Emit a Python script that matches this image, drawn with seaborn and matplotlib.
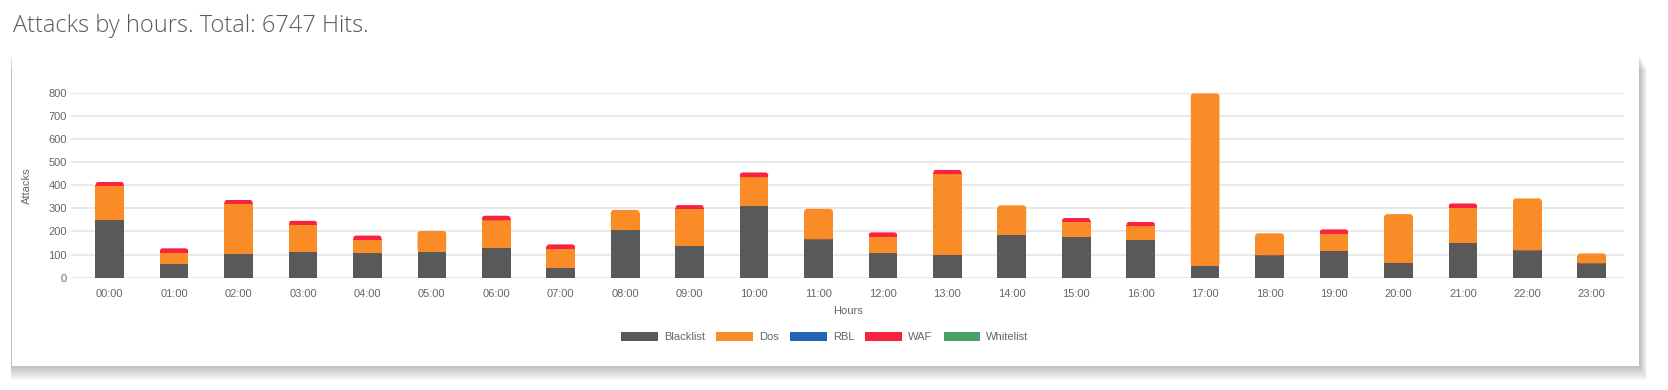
import matplotlib
matplotlib.use("Agg")
import matplotlib.pyplot as plt
from matplotlib.patches import Rectangle, Patch, FancyBboxPatch
import numpy as np
import pandas as pd
import seaborn as sns

# Data
hours = [f"{h:02d}:00" for h in range(24)]
blacklist = [250, 59, 102, 110, 105, 112, 128, 40, 206, 138, 311, 166,
             108, 99, 186, 174, 163, 52, 97, 117, 65, 150, 118, 62]
dos = [147, 49, 217, 119, 58, 90, 120, 84, 87, 159, 124, 132,
       69, 349, 127, 67, 60, 745, 95, 73, 210, 153, 225, 43]
rbl = [0] * 24
waf = [17, 19, 17, 17, 19, 0, 20, 20, 0, 17, 20, 0,
       19, 18, 0, 17, 18, 0, 0, 19, 0, 18, 0, 0]
whitelist = [0] * 24

series_names = ["Blacklist", "Dos", "RBL", "WAF", "Whitelist"]
series_colors = ["#595959", "#f98c26", "#2364b4", "#f7233f", "#489f68"]
title = "Attacks by hours. Total: 6747 Hits."

sns.set_theme(style="white")
plt.rcParams["font.family"] = ["Liberation Sans", "DejaVu Sans"]

W, H = 1668, 390
fig = plt.figure(figsize=(W / 100, H / 100), dpi=100)
fig.patch.set_facecolor("white")

# card with soft shadow
cx0, cy0, cx1, cy1 = 12, 55, 1639, 366  # pixel box (top-left origin)
for i in range(10):
    fig.patches.append(Rectangle(((cx0 - 1) / W, (H - cy1 - i * 1.6) / H),
                                 (cx1 - cx0 + 2 + i * 0.8) / W, (cy1 - cy0) / H,
                                 transform=fig.transFigure, facecolor="black",
                                 edgecolor="none", alpha=0.028, zorder=0))
fig.patches.append(Rectangle((cx0 / W, (H - cy1) / H), (cx1 - cx0) / W, (cy1 - cy0) / H,
                             transform=fig.transFigure, facecolor="white",
                             edgecolor="none", zorder=1))

fig.text(13 / W, 1 - 32 / H, title, fontsize=17, color="#5a5a5a",
         family=["Open Sans", "DejaVu Sans"], fontweight="light", va="baseline")

ax_l, ax_r, ax_t, ax_b = 71, 1624, 92.7, 277.7
ax = fig.add_axes([ax_l / W, (H - ax_b) / H, (ax_r - ax_l) / W, (ax_b - ax_t) / H])
ax.set_zorder(2)
ax.patch.set_alpha(0)

df = pd.DataFrame({"Hours": hours, "Blacklist": blacklist, "Dos": dos,
                   "RBL": rbl, "WAF": waf, "Whitelist": whitelist})

bottom = np.zeros(len(hours))
for name, color in zip(series_names, series_colors):
    vals = df[name].to_numpy()
    sns.barplot(data=df, x="Hours", y=name, color=color, width=0.445,
                bottom=bottom, saturation=1, ax=ax, zorder=3,
                edgecolor="none", linewidth=0)
    bottom = bottom + vals

ax.set_xlim(-0.6, 23.5)
ax.set_ylim(0, 800)

# round the top corners of each stack (like the original chart)
n = len(hours)
bars = list(ax.patches)
px_x = (ax_r - ax_l) / (23.5 + 0.6)      # pixels per x unit
px_y = (ax_b - ax_t) / 800               # pixels per y unit
aspect = px_x / px_y
radius = 3.0 / px_x
for i in range(n):
    top = None
    for s in range(len(series_names)):
        if df[series_names[s]].iloc[i] > 0:
            top = bars[s * n + i]
    if top is None:
        continue
    x, y = top.get_x(), top.get_y()
    w, h = top.get_width(), top.get_height()
    fc = top.get_facecolor()
    top.set_height(max(h - radius * aspect, 0))
    ax.add_patch(FancyBboxPatch((x, y), w, h,
                                boxstyle=f"round,pad=0,rounding_size={radius}",
                                mutation_aspect=aspect, facecolor=fc,
                                edgecolor="none", zorder=3))

ax.set_yticks(np.arange(0, 801, 100))
ax.yaxis.grid(True, color="#e3e3e3", linewidth=1.1, zorder=0)
ax.xaxis.grid(False)
for s in ax.spines.values():
    s.set_visible(False)
ax.tick_params(axis="both", length=0, labelsize=8, labelcolor="#666666")
ax.tick_params(axis="y", pad=3)
ax.tick_params(axis="x", pad=8)
ax.set_axisbelow(True)

ax.set_ylabel("Attacks", fontsize=8, color="#666666")
ax.yaxis.set_label_coords(-0.025, 0.5)
ax.set_xlabel("Hours", fontsize=8, color="#666666")
ax.xaxis.set_label_coords(0.5, -0.155)

handles = [Patch(facecolor=c, edgecolor="none", label=n_)
           for n_, c in zip(series_names, series_colors)]
fig.legend(handles=handles, loc="center", bbox_to_anchor=(825 / W, 1 - 337 / H),
           ncol=5, frameon=False, fontsize=8, labelcolor="#666666",
           handlelength=3.3, handleheight=0.95, handletextpad=0.55,
           columnspacing=1.0)

fig.savefig("out.png", dpi=100, facecolor="white")
